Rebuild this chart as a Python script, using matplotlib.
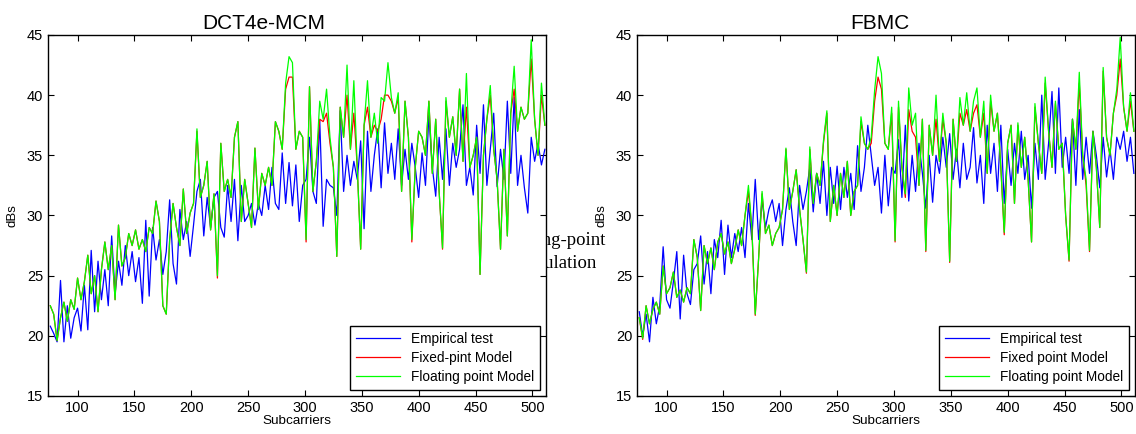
import numpy as np
import matplotlib

matplotlib.use("Agg")
import matplotlib.pyplot as plt

plt.rcParams["font.family"] = ["Liberation Sans", "DejaVu Sans"]

# subcarrier index, sampled every 3rd carrier
SUBCARRIERS = list(range(76, 512, 3))

# DCT4e-MCM panel
DCT_EMPIRICAL = [
    20.8, 20.2, 19.5, 24.6, 19.5, 22.5, 19.8, 21.5, 22.3, 20.4,
    24.2, 20.5, 27.1, 22.0, 26.2, 23.0, 25.5, 22.5, 28.3, 23.5,
    26.2, 24.2, 27.5, 25.0, 27.0, 24.5, 26.5, 22.7, 29.6, 23.3,
    29.0, 26.3, 28.0, 25.1, 27.0, 31.3, 26.0, 24.3, 30.5, 28.0,
    29.5, 26.6, 29.2, 32.0, 33.0, 28.3, 31.5, 29.0, 31.5, 32.0,
    29.0, 28.2, 32.5, 29.5, 33.0, 27.9, 32.5, 29.5, 30.0, 31.0,
    29.2, 31.0, 30.0, 32.5, 30.5, 34.0, 31.0, 30.5, 35.2, 31.0,
    34.4, 30.8, 34.2, 29.5, 32.5, 33.0, 36.5, 32.0, 31.0, 37.9,
    29.1, 33.0, 32.5, 32.3, 30.0, 38.7, 32.0, 35.0, 32.5, 34.5,
    33.0, 36.2, 28.9, 37.0, 32.0, 35.0, 37.2, 32.3, 37.7, 33.5,
    36.0, 33.0, 37.2, 32.5, 35.5, 33.0, 36.0, 34.0, 31.5, 35.2,
    32.5, 38.3, 34.0, 31.6, 36.5, 33.0, 37.2, 32.5, 36.0, 34.0,
    35.5, 39.2, 32.5, 34.0, 31.7, 37.5, 33.5, 39.2, 32.5, 35.5,
    38.5, 32.4, 35.5, 33.0, 39.5, 33.5, 39.8, 32.5, 35.0, 32.3,
    30.2, 36.5, 34.5, 36.0, 34.2, 35.5,
]
DCT_FIXED = [
    22.5, 21.8, 19.6, 21.5, 22.8, 21.2, 23.0, 22.2, 24.8, 23.0,
    24.5, 26.7, 23.5, 25.0, 22.0, 25.5, 27.8, 25.5, 27.5, 23.0,
    29.2, 25.8, 26.5, 28.5, 27.5, 28.8, 27.2, 28.0, 27.0, 29.0,
    28.5, 31.2, 29.5, 22.5, 21.8, 28.0, 31.0, 29.0, 27.5, 32.2,
    28.5, 30.2, 31.0, 37.0, 31.5, 32.5, 34.5, 28.8, 31.8, 24.8,
    36.0, 32.0, 33.0, 31.5, 36.5, 37.8, 29.5, 33.0, 31.0, 29.0,
    35.6, 30.5, 33.5, 32.5, 34.0, 32.5, 37.8, 37.0, 35.5, 40.5,
    41.5, 41.5, 35.5, 37.0, 36.5, 27.8, 40.7, 32.0, 34.5, 38.0,
    37.8, 38.5, 36.0, 34.0, 26.6, 39.0, 36.5, 40.0, 35.5, 38.5,
    34.0, 27.2, 37.5, 39.0, 36.5, 37.5, 37.0, 38.0, 40.0, 40.0,
    39.5, 38.5, 39.8, 32.0, 39.5, 36.5, 27.8, 34.0, 37.0, 36.5,
    35.0, 39.5, 33.5, 38.0, 32.0, 27.2, 39.5, 36.5, 38.2, 35.0,
    40.5, 34.5, 39.0, 34.0, 35.0, 36.5, 25.1, 35.0, 38.0, 40.0,
    35.5, 33.0, 27.2, 35.5, 28.3, 38.5, 40.5, 37.0, 39.0, 38.0,
    38.5, 43.0, 38.0, 35.0, 40.0, 37.5,
]
DCT_FLOATING = [
    22.5, 21.8, 19.6, 21.5, 22.8, 21.2, 23.0, 22.2, 24.8, 23.0,
    24.5, 26.7, 23.5, 25.0, 22.0, 25.5, 27.8, 25.5, 27.5, 23.0,
    29.2, 25.8, 26.5, 28.5, 27.5, 28.8, 27.2, 28.0, 27.0, 29.0,
    28.5, 31.2, 29.5, 22.5, 21.8, 28.0, 31.0, 29.0, 27.5, 32.2,
    28.5, 30.2, 31.0, 37.2, 31.5, 32.5, 34.5, 28.8, 31.8, 25.0,
    36.0, 32.0, 33.0, 31.5, 36.5, 37.8, 29.5, 33.0, 31.0, 29.0,
    35.6, 30.5, 33.5, 32.5, 34.0, 32.5, 37.8, 37.0, 35.5, 41.0,
    43.2, 42.7, 35.5, 37.0, 36.5, 28.0, 40.7, 32.0, 34.5, 39.5,
    38.0, 40.5, 36.5, 34.0, 26.6, 39.0, 36.5, 42.5, 35.5, 41.2,
    34.0, 27.2, 37.5, 41.2, 36.5, 38.5, 36.0, 39.8, 39.5, 42.7,
    39.8, 38.5, 40.2, 32.0, 39.5, 36.5, 28.0, 34.0, 37.0, 36.5,
    35.0, 39.5, 33.5, 38.0, 32.0, 27.3, 39.8, 36.5, 38.2, 35.0,
    40.5, 34.5, 41.8, 34.0, 35.0, 36.5, 25.1, 35.0, 38.0, 40.8,
    35.5, 33.0, 27.2, 35.5, 28.3, 38.5, 42.4, 37.0, 39.0, 38.0,
    38.5, 44.6, 38.0, 35.0, 41.0, 37.5,
]

# FBMC panel
FBMC_EMPIRICAL = [
    22.0, 20.0, 21.8, 19.5, 23.2, 21.0, 22.5, 27.4, 23.0, 22.3,
    24.5, 27.0, 21.4, 26.7, 23.5, 22.6, 25.5, 26.0, 28.3, 24.3,
    27.0, 23.5, 28.0, 26.5, 29.6, 25.1, 29.2, 26.5, 28.5, 27.0,
    29.0, 26.5, 31.0, 28.0, 33.0, 28.0, 31.3, 29.0, 30.5, 31.3,
    29.5, 31.0, 27.5, 30.5, 32.3, 29.5, 27.5, 32.5, 30.5, 32.0,
    34.0, 30.3, 33.5, 31.0, 34.5, 30.0, 34.0, 31.0, 34.1, 30.5,
    34.0, 31.5, 33.5, 30.5, 35.8, 32.0, 34.0, 37.5, 35.0, 32.5,
    34.0, 30.2, 35.0, 30.8, 34.0, 33.5, 36.3, 31.5, 37.5, 31.2,
    35.0, 32.0, 36.0, 33.5, 30.6, 35.0, 31.1, 35.0, 33.5, 36.5,
    34.0, 36.8, 33.0, 35.5, 32.3, 36.0, 33.0, 34.0, 37.3, 32.7,
    35.0, 31.0, 37.5, 33.5, 36.0, 32.0, 37.5, 31.0, 35.5, 32.5,
    36.0, 33.5, 37.0, 33.0, 35.0, 30.6, 36.0, 33.0, 40.0, 33.0,
    36.0, 40.3, 33.5, 40.6, 34.0, 36.5, 33.5, 38.0, 32.5, 38.8,
    33.0, 36.5, 33.5, 37.0, 35.0, 32.3, 36.5, 33.2, 35.5, 33.0,
    36.5, 35.5, 37.0, 34.5, 36.5, 33.5,
]
FBMC_FIXED = [
    21.5, 19.7, 22.5, 21.0, 22.2, 22.8, 21.8, 25.8, 23.5, 24.0,
    25.3, 23.2, 23.8, 22.8, 24.0, 23.5, 28.0, 26.5, 22.1, 27.5,
    26.0, 27.3, 25.5, 27.8, 28.5, 26.8, 27.8, 26.0, 27.2, 28.8,
    27.5, 30.0, 32.0, 29.0, 21.7, 26.5, 31.8, 28.5, 29.2, 27.5,
    28.5, 29.0, 30.5, 35.5, 30.5, 32.0, 33.8, 30.5, 28.0, 25.2,
    35.5, 31.0, 33.5, 32.5, 36.0, 38.5, 29.5, 32.5, 30.0, 33.5,
    31.5, 34.5, 30.0, 32.0, 32.5, 37.8, 36.0, 35.5, 36.0, 39.5,
    41.5, 40.5, 36.0, 35.5, 38.5, 27.8, 39.0, 34.0, 31.5, 38.8,
    37.0, 36.5, 32.5, 38.0, 27.0, 37.5, 35.0, 38.0, 34.5, 38.0,
    36.0, 26.1, 38.0, 34.5, 38.5, 37.5, 38.8, 37.0, 38.5, 39.2,
    36.5, 38.5, 33.5, 39.5, 37.0, 38.5, 34.0, 28.4, 36.0, 37.5,
    31.0, 37.5, 34.0, 36.5, 33.0, 27.8, 39.0, 36.0, 33.5, 41.0,
    37.0, 34.0, 39.3, 35.5, 36.0, 30.0, 26.2, 38.0, 35.5, 41.0,
    35.0, 32.5, 27.0, 37.0, 34.0, 29.0, 42.0, 36.5, 35.0, 38.5,
    40.0, 43.0, 39.0, 37.0, 39.5, 37.0,
]
FBMC_FLOATING = [
    21.5, 19.8, 22.5, 21.0, 22.2, 22.8, 21.8, 25.8, 23.5, 24.0,
    25.3, 23.2, 23.8, 22.8, 24.0, 23.5, 28.0, 26.5, 22.1, 27.5,
    26.0, 27.3, 25.5, 27.8, 28.5, 26.8, 27.8, 26.0, 27.2, 28.8,
    27.5, 30.0, 32.5, 29.0, 21.8, 26.5, 32.0, 28.5, 29.2, 27.5,
    28.5, 29.0, 30.5, 35.6, 30.5, 32.0, 33.8, 30.5, 28.0, 25.3,
    35.7, 31.0, 33.5, 32.5, 36.2, 38.7, 29.5, 32.5, 30.0, 33.5,
    31.5, 34.5, 30.0, 32.0, 32.5, 38.2, 36.0, 35.5, 36.5, 40.4,
    43.2, 41.8, 36.0, 35.5, 39.0, 27.9, 39.5, 34.0, 31.8, 40.6,
    37.5, 38.5, 32.5, 38.0, 27.1, 37.5, 35.0, 40.0, 34.5, 38.5,
    36.0, 26.2, 38.0, 34.5, 39.8, 37.5, 40.2, 37.0, 39.5, 40.6,
    36.5, 39.5, 33.5, 40.0, 37.0, 38.5, 34.0, 28.6, 36.0, 37.5,
    31.0, 37.7, 34.0, 36.5, 33.0, 27.8, 39.3, 36.0, 33.5, 41.5,
    37.0, 34.0, 39.5, 35.5, 36.0, 30.0, 26.3, 38.0, 35.5, 41.9,
    35.0, 33.0, 27.1, 37.0, 34.0, 29.0, 42.3, 36.5, 35.0, 38.5,
    40.5, 44.8, 39.0, 37.0, 40.2, 37.0,
]

PANELS = [
    ("DCT4e-MCM", 0.434, DCT_EMPIRICAL, DCT_FIXED, DCT_FLOATING, "Fixed-pint Model"),
    ("FBMC", 0.488, FBMC_EMPIRICAL, FBMC_FIXED, FBMC_FLOATING, "Fixed point Model"),
]
X_TICKS = [100, 150, 200, 250, 300, 350, 400, 450, 500]
Y_TICKS = [15, 20, 25, 30, 35, 40, 45]


def draw_panel(ax, title, title_x, empirical, fixed, floating, fixed_label):
    ax.plot(SUBCARRIERS, empirical, color="#0000ff", lw=0.9, label="Empirical test")
    ax.plot(SUBCARRIERS, fixed, color="#ff0000", lw=0.9, label=fixed_label)
    ax.plot(SUBCARRIERS, floating, color="#00ff00", lw=0.9, label="Floating point Model")
    ax.set_xlim(74, 512)
    ax.set_ylim(15, 45)
    ax.set_xticks(X_TICKS)
    ax.set_yticks(Y_TICKS)
    ax.tick_params(direction="in", top=True, right=True, labelsize=10.5, length=4, width=0.8)
    ax.set_title(title, fontsize=15, pad=4, x=title_x)
    ax.set_xlabel("Subcarriers", fontsize=9.7, labelpad=0)
    ax.set_ylabel("dBs", fontsize=9.5, labelpad=6)
    for spine in ax.spines.values():
        spine.set_linewidth(1.0)
    leg = ax.legend(loc="lower right", fontsize=9.8, fancybox=False, framealpha=1,
                    edgecolor="black", borderaxespad=0.45, handlelength=3.2,
                    labelspacing=0.35, borderpad=0.45)
    leg.get_frame().set_linewidth(1.0)


fig = plt.figure(figsize=(11.36, 4.34), dpi=100, facecolor="white")
ax_left = fig.add_axes([48 / 1136, 0.0876, 498 / 1136, 0.8318])
ax_right = fig.add_axes([637 / 1136, 0.0876, 498 / 1136, 0.8318])

for ax, (title, tx, emp, fix, flo, lab) in zip([ax_left, ax_right], PANELS):
    draw_panel(ax, title, tx, emp, fix, flo, lab)

# leftover caption text from the source page, partly hidden behind the left axes
fig.text(606 / 1136, 1 - 240 / 434, "Floating-point", ha="right", va="center",
         fontsize=13.5, family="Liberation Serif", zorder=-1)
fig.text(597 / 1136, 1 - 263 / 434, "simulation", ha="right", va="center",
         fontsize=13.5, family="Liberation Serif", zorder=-1)

fig.savefig("out.png", dpi=100, facecolor="white")
